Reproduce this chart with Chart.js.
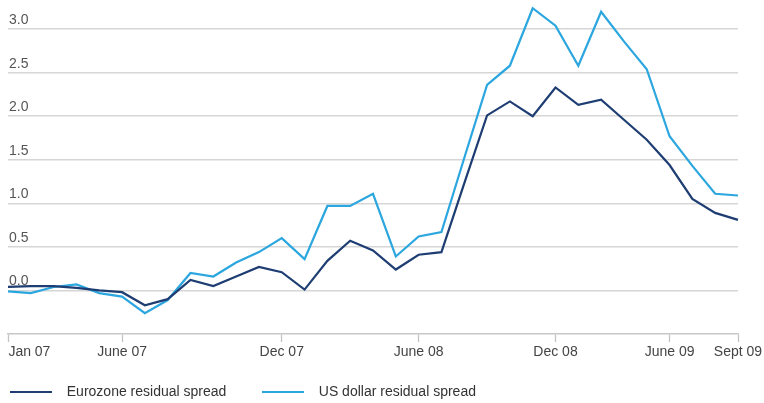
<!DOCTYPE html>
<html>
<head>
<meta charset="utf-8">
<script src="https://cdn.jsdelivr.net/npm/chart.js@4.4.1/dist/chart.umd.min.js"></script>
<style>
  html, body { margin: 0; padding: 0; background: #fff; }
  #wrap { width: 764px; height: 403px; }
</style>
</head>
<body>
<div id="wrap"><canvas id="spreads"></canvas></div>
<script>
// monthly observations, Jan 07 - Sept 09
const months = [
  'Jan 07', 'Feb 07', 'Mar 07', 'Apr 07', 'May 07', 'Jun 07', 'Jul 07', 'Aug 07', 'Sep 07', 'Oct 07', 'Nov 07', 'Dec 07',
  'Jan 08', 'Feb 08', 'Mar 08', 'Apr 08', 'May 08', 'Jun 08', 'Jul 08', 'Aug 08', 'Sep 08', 'Oct 08', 'Nov 08', 'Dec 08',
  'Jan 09', 'Feb 09', 'Mar 09', 'Apr 09', 'May 09', 'Jun 09', 'Jul 09', 'Aug 09', 'Sep 09'
];

const eurozone = [
  0.04, 0.05, 0.05, 0.03, 0.00, -0.02, -0.17, -0.10, 0.12, 0.05, 0.16, 0.27,
  0.21, 0.01, 0.34, 0.57, 0.46, 0.24, 0.41, 0.44, 1.23, 2.01, 2.17, 2.00,
  2.33, 2.13, 2.19, 1.96, 1.73, 1.44, 1.05, 0.89, 0.81
];

const usDollar = [
  -0.01, -0.03, 0.04, 0.07, -0.03, -0.07, -0.26, -0.11, 0.20, 0.16, 0.32, 0.44,
  0.60, 0.36, 0.97, 0.97, 1.11, 0.39, 0.62, 0.67, 1.52, 2.36, 2.58, 3.24,
  3.04, 2.58, 3.20, 2.86, 2.54, 1.77, 1.43, 1.11, 1.09
];

// x tick labels, at the positions they sit in the original
const xTickIndex = [0, 5, 12, 18, 24, 29, 32];
const xTickText = ['Jan 07', 'June 07', 'Dec 07', 'June 08', 'Dec 08', 'June 09', 'Sept 09'];

const yTicks = [0, 0.5, 1, 1.5, 2, 2.5, 3];
const yTickText = ['0.0', '0.5', '1.0', '1.5', '2.0', '2.5', '3.0'];

const font = 'Liberation Sans, Arial, sans-serif';

new Chart(document.getElementById('spreads'), {
  type: 'line',
  data: {
    labels: months,
    datasets: [{
      label: 'Eurozone residual spread',
      data: eurozone,
      borderColor: '#1e3d72',
      backgroundColor: '#1e3d72',
      borderWidth: 2.2,
      pointRadius: 0,
      tension: 0
    }, {
      label: 'US dollar residual spread',
      data: usDollar,
      borderColor: '#2ba6df',
      backgroundColor: '#2ba6df',
      borderWidth: 2.2,
      pointRadius: 0,
      tension: 0
    }]
  },
  options: {
    responsive: true,
    maintainAspectRatio: false,
    animation: false,
    layout: {
      padding: { left: -14, right: 0, top: 3, bottom: -6 }
    },
    plugins: {
      tooltip: { enabled: false },
      legend: {
        position: 'bottom',
        align: 'start',
        labels: {
          usePointStyle: true,
          pointStyle: 'line',
          pointStyleWidth: 42,
          padding: 24,
          color: '#333',
          font: { family: font, size: 14 },
          // wider gap between the sample line and its text, and between items
          generateLabels: (chart) => Chart.defaults.plugins.legend.labels.generateLabels(chart)
            .map((item, i) => Object.assign(item, { text: '  ' + item.text + (i === 0 ? '   ' : '') }))
        }
      }
    },
    scales: {
      x: {
        grid: {
          drawOnChartArea: false,
          drawTicks: true,
          tickLength: 8,
          tickWidth: 1.3,
          tickColor: (ctx) => xTickIndex.includes(ctx.index) ? '#c4c4c4' : 'transparent'
        },
        border: { display: true, color: '#c8c8c8', width: 1.5 },
        ticks: {
          autoSkip: false,
          maxRotation: 0,
          padding: 2,
          color: '#444',
          font: { family: font, size: 14 },
          callback: (value, index) => {
            const k = xTickIndex.indexOf(index);
            if (k < 0) return '';
            // first label starts at its tick instead of centring on it
            return k === 0 ? ' '.repeat(11) + xTickText[k] : xTickText[k];
          }
        },
        afterFit: (scale) => {
          scale.paddingLeft = 0;
          scale.paddingRight = 26;
          scale.height = 27;
        }
      },
      y: {
        min: -0.5,
        max: 3.3,
        afterBuildTicks: (scale) => {
          scale.ticks = yTicks.map(v => ({ value: v }));
        },
        afterFit: (scale) => {
          scale.width = 22;
          scale.paddingTop = 0;
          scale.paddingBottom = 0;
        },
        grid: {
          color: '#d6d6d6',
          lineWidth: 1.5,
          drawTicks: false
        },
        border: { display: false },
        ticks: {
          mirror: true,
          padding: 1,
          labelOffset: -9,
          color: '#555',
          font: { family: font, size: 14 },
          callback: (value) => {
            const k = yTicks.indexOf(value);
            return k < 0 ? '' : yTickText[k];
          }
        }
      }
    }
  }
});
</script>
</body>
</html>
